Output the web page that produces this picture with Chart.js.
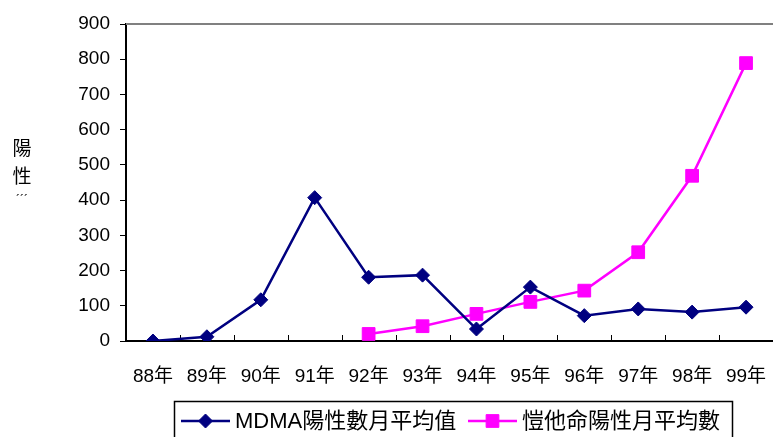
<!DOCTYPE html>
<html>
<head>
<meta charset="utf-8">
<script src="https://cdn.jsdelivr.net/npm/chart.js@4/dist/chart.umd.min.js"></script>
<style>
  html, body { margin: 0; padding: 0; background: #fff; }
  #wrap { width: 773px; height: 437px; }
</style>
</head>
<body>
<div id="wrap"><canvas id="grafica"></canvas></div>
<script>
// Datos
const anys = ['88年', '89年', '90年', '91年', '92年', '93年', '94年', '95年', '96年', '97年', '98年', '99年'];
const mdma = [0, 12, 117, 407, 181, 187, 34, 153, 72, 91, 82, 96];
const ketamina = [null, null, null, null, 20, 42, 77, 111, 143, 252, 469, 789];
const etiquetes = ['MDMA陽性數月平均值', '愷他命陽性月平均數'];

const FONT = "'Liberation Sans', Arial, 'Noto Sans CJK TC', sans-serif";

// marcas del eje x hacia arriba, borde superior gris, leyenda con recuadro y título vertical
const extras = {
    id: 'extras',
    beforeDatasetsDraw(chart) {
        const { ctx, chartArea } = chart;
        const x = chart.scales.x;
        ctx.save();
        ctx.strokeStyle = '#808080';
        ctx.lineWidth = 2;
        ctx.beginPath();
        ctx.moveTo(chartArea.left, chartArea.top);
        ctx.lineTo(chartArea.right, chartArea.top);
        ctx.stroke();

        ctx.strokeStyle = '#000';
        ctx.lineWidth = 1;
        const amplada = x.getPixelForValue(1) - x.getPixelForValue(0);
        for (let i = 1; i < anys.length; i++) {
            const px = Math.round(x.getPixelForValue(i) - amplada / 2) + 0.5;
            ctx.beginPath();
            ctx.moveTo(px, chartArea.bottom);
            ctx.lineTo(px, chartArea.bottom - 6);
            ctx.stroke();
        }
        ctx.restore();
    },
    afterDraw(chart) {
        const { ctx } = chart;
        ctx.save();
        // título del eje y, en vertical
        ctx.fillStyle = '#000';
        ctx.font = '19px ' + FONT;
        ctx.textAlign = 'center';
        ctx.textBaseline = 'middle';
        ctx.fillText('陽', 22, 150);
        ctx.fillText('性', 22, 178);
        ctx.font = '12px ' + FONT;
        ctx.fillText('´´´', 22, 201);

        // leyenda
        ctx.strokeStyle = '#000';
        ctx.lineWidth = 1.5;
        ctx.strokeRect(174.5, 401.5, 558, 50);
        const posicions = [181, 468];
        ctx.font = '22px ' + FONT;
        ctx.textAlign = 'left';
        chart.data.datasets.forEach((ds, i) => {
            const x0 = posicions[i];
            const y0 = 421;
            ctx.strokeStyle = ds.borderColor;
            ctx.fillStyle = ds.backgroundColor;
            ctx.lineWidth = 2.5;
            ctx.beginPath();
            ctx.moveTo(x0, y0);
            ctx.lineTo(x0 + 49, y0);
            ctx.stroke();
            ctx.lineWidth = 1;
            Chart.helpers.drawPoint(ctx, {
                pointStyle: ds.pointStyle,
                radius: ds.pointRadius,
                borderWidth: 1
            }, x0 + 24.5, y0);
            ctx.fillStyle = '#000';
            ctx.fillText(ds.label, x0 + 54, y0 + 1);
        });
        ctx.restore();
    }
};

function crearGrafica(ctx) {
    return new Chart(ctx, {
        type: 'line',
        data: {
            labels: anys,
            datasets: [{
                label: etiquetes[0],
                data: mdma,
                borderColor: '#000080',
                backgroundColor: '#000080',
                borderWidth: 2.5,
                pointStyle: 'rectRot',
                pointRadius: 7,
                pointBorderWidth: 1,
                tension: 0
            }, {
                label: etiquetes[1],
                data: ketamina,
                borderColor: '#ff00ff',
                backgroundColor: '#ff00ff',
                borderWidth: 2.5,
                pointStyle: 'rect',
                pointRadius: 9,
                pointBorderWidth: 1,
                tension: 0
            }]
        },
        options: {
            responsive: true,
            maintainAspectRatio: false,
            animation: false,
            layout: { autoPadding: false, padding: { top: 24, right: 0, bottom: 0, left: 0 } },
            plugins: {
                legend: { display: false },
                tooltip: { enabled: false }
            },
            scales: {
                x: {
                    offset: true,
                    grid: { display: true, drawOnChartArea: false, drawTicks: true, tickLength: 24, color: 'rgba(0,0,0,0)' },
                    border: { display: true, color: '#000', width: 2 },
                    ticks: { color: '#000', font: { family: FONT, size: 19 }, padding: 0, maxRotation: 0 },
                    afterFit(scale) {
                        scale.height = 96;
                        scale.paddingLeft = 0;
                        scale.paddingRight = 0;
                    }
                },
                y: {
                    min: 0,
                    max: 900,
                    ticks: { stepSize: 100, color: '#000', font: { family: FONT, size: 19 }, padding: 10 },
                    grid: { drawOnChartArea: false, drawTicks: true, tickLength: 6, color: '#000' },
                    border: { display: true, color: '#000', width: 2 },
                    afterFit(scale) { scale.width = 126; }
                }
            }
        },
        plugins: [extras]
    });
}

crearGrafica(document.getElementById('grafica'));
</script>
</body>
</html>
